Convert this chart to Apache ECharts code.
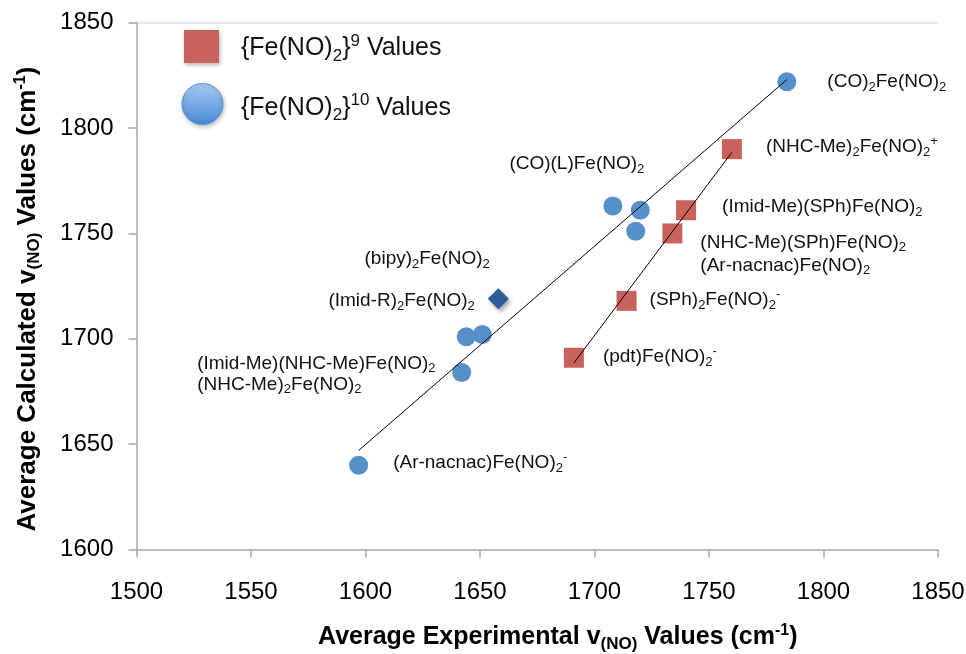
<!DOCTYPE html>
<html><head><meta charset="utf-8">
<script src="https://cdn.jsdelivr.net/npm/echarts@6/dist/echarts.min.js"></script>
<style>html,body{margin:0;padding:0;background:#fff}#c{width:966px;height:654px}</style>
</head><body><div id="c"></div>
<script>
// ---- data ----
const xTicks = [1500, 1550, 1600, 1650, 1700, 1750, 1800, 1850];
const yTicks = [1600, 1650, 1700, 1750, 1800, 1850];

const fe9X = [1760, 1740, 1734, 1714, 1691];
const fe9Y = [1790, 1761, 1750, 1718, 1691];
const fe9Labels = [
  '(NHC-Me){s|2}Fe(NO){s|2}{u|+}',
  '(Imid-Me)(SPh)Fe(NO){s|2}',
  '(NHC-Me)(SPh)Fe(NO){s|2}\n(Ar-nacnac)Fe(NO){s|2}',
  '(SPh){s|2}Fe(NO){s|2}{u|-}',
  '(pdt)Fe(NO){s|2}{u|-}'
];

const fe10X = [1784, 1708, 1720, 1718, 1644, 1651, 1642, 1597];
const fe10Y = [1822, 1763, 1761, 1751, 1701, 1702, 1684, 1640];
const fe10Labels = [
  '(CO){s|2}Fe(NO){s|2}',
  '(CO)(L)Fe(NO){s|2}',
  '', '',
  '(Imid-R){s|2}Fe(NO){s|2}',
  '',
  '(Imid-Me)(NHC-Me)Fe(NO){s|2}\n(NHC-Me){s|2}Fe(NO){s|2}',
  '(Ar-nacnac)Fe(NO){s|2}{u|-}'
];

const bipyX = [1658];
const bipyY = [1719];
const bipyLabels = ['(bipy){s|2}Fe(NO){s|2}'];

const fe10TrendX = [1597, 1784];
const fe10TrendY = [1647, 1823];
const fe9TrendX = [1691, 1760];
const fe9TrendY = [1688.5, 1788.5];

const legendNames = ['Fe9', 'Fe10'];
const legendTexts = ['{Fe(NO){s|2}}{u|9} Values', '{Fe(NO){s|2}}{u|10} Values'];

// ---- layout / style ----
const FONT = "'Liberation Sans', Arial, Helvetica, sans-serif";
const fe9Place = [['right', [24, -2]], ['right', [26, -3]], ['right', [18, 21], 23], ['right', [13, -1]], ['right', [19, -1]]];
const fe10Place = [['right', [31, 0]], ['left', [41, -42]], null, null, ['left', [18, -36]], null, ['leftL', [-255, 2], 21], ['right', [25, -2]]];
const bipyPlace = [['left', [2, -40]]];

const labelRich = {
  s: { fontSize: 13, lineHeight: 13, verticalAlign: 'bottom', fontFamily: FONT, color: '#111' },
  u: { fontSize: 13, lineHeight: 13, verticalAlign: 'top', fontFamily: FONT, color: '#111' }
};

function makeItems(xs, ys, labels, place) {
  return xs.map((x, i) => {
    const item = { value: [x, ys[i]] };
    const p = place[i];
    if (labels[i] && p) {
      const txt = labels[i];
      item.label = {
        show: true,
        position: p[0] === 'leftL' ? 'left' : p[0],
        align: (p[0] === 'right' || p[0] === 'leftL') ? 'left' : 'right',
        verticalAlign: 'middle',
        distance: 0,
        offset: p[1],
        fontSize: 19,
        lineHeight: p[2] || 24,
        fontFamily: FONT,
        color: '#111',
        formatter: () => txt,
        rich: labelRich
      };
    } else {
      item.label = { show: false };
    }
    return item;
  });
}

const nameRich = {
  s: { fontSize: 17, lineHeight: 17, verticalAlign: 'bottom', fontWeight: 'bold', fontFamily: FONT, color: '#000' },
  u: { fontSize: 16, lineHeight: 16, verticalAlign: 'top', fontWeight: 'bold', fontFamily: FONT, color: '#000' }
};
const legRich = {
  s: { fontSize: 17, lineHeight: 17, verticalAlign: 'bottom', fontFamily: FONT, color: '#111' },
  u: { fontSize: 17, lineHeight: 17, verticalAlign: 'top', fontFamily: FONT, color: '#111' },
  sp1: { width: 17 },
  sp2: { width: 13 }
};

const axisGray = '#a6a6a6';
const chart = echarts.init(document.getElementById('c'), null, { renderer: 'canvas' });
chart.setOption({
  animation: false,
  backgroundColor: '#fff',
  grid: { left: 136.5, right: 28, top: 22.7, bottom: 104.5, containLabel: false, outerBoundsMode: 'none' },
  legend: [
    {
      data: [{ name: legendNames[0], icon: 'rect',
        itemStyle: { color: '#c9625a', shadowBlur: 4, shadowOffsetX: 1, shadowOffsetY: 2, shadowColor: 'rgba(0,0,0,0.3)' } }],
      left: 184, top: 28.5, padding: 0, itemWidth: 35, itemHeight: 33, selectedMode: false,
      textStyle: { fontSize: 25, lineHeight: 32, fontFamily: FONT, color: '#111', padding: [4, 0, 0, 0], rich: legRich },
      formatter: () => '{sp1| }' + legendTexts[0]
    },
    {
      data: [{ name: legendNames[1], icon: 'circle',
        itemStyle: { color: { type: 'linear', x: 0, y: 0, x2: 0, y2: 1,
          colorStops: [{ offset: 0, color: '#a9cdf4' }, { offset: 1, color: '#4686d3' }] },
          borderColor: '#5b8fcf', borderWidth: 1,
          shadowBlur: 4, shadowOffsetX: 1, shadowOffsetY: 2, shadowColor: 'rgba(0,0,0,0.25)' } }],
      left: 181.5, top: 83, padding: 0, itemWidth: 41, itemHeight: 41, selectedMode: false,
      textStyle: { fontSize: 25, lineHeight: 32, fontFamily: FONT, color: '#111', padding: [8, 0, 0, 0], rich: legRich },
      formatter: () => '{sp2| }' + legendTexts[1]
    }
  ],
  xAxis: {
    type: 'value',
    min: xTicks[0], max: xTicks[xTicks.length - 1], interval: xTicks[1] - xTicks[0],
    axisLine: { show: true, onZero: false, lineStyle: { color: axisGray, width: 1.5 } },
    axisTick: { show: true, length: 8, lineStyle: { color: axisGray, width: 1.5 } },
    axisLabel: { fontSize: 24, color: '#000', margin: 31, fontFamily: FONT, showMinLabel: true, showMaxLabel: true,
      formatter: v => String(v) },
    splitLine: { show: false },
    name: 'Average Experimental v{s|(NO)} Values (cm{u|-1})',
    nameLocation: 'middle', nameGap: 73,
    nameTextStyle: { fontSize: 25, fontWeight: 'bold', fontFamily: FONT, color: '#000', lineHeight: 30,
      padding: [0, 0, 0, 41], rich: nameRich }
  },
  yAxis: {
    type: 'value',
    min: yTicks[0], max: yTicks[yTicks.length - 1], interval: yTicks[1] - yTicks[0],
    axisLine: { show: true, onZero: false, lineStyle: { color: axisGray, width: 1.5 } },
    axisTick: { show: true, length: 8, lineStyle: { color: axisGray, width: 1.5 } },
    axisLabel: { fontSize: 24, color: '#000', margin: 23, fontFamily: FONT, showMinLabel: true, showMaxLabel: true,
      formatter: v => String(v) },
    splitLine: { show: true, lineStyle: { color: ['rgba(0,0,0,0)', 'rgba(0,0,0,0)', 'rgba(0,0,0,0)', 'rgba(0,0,0,0)', 'rgba(0,0,0,0)', '#dedede'], width: 1.5 } },
    name: 'Average Calculated v{s|(NO)} Values (cm{u|-1})',
    nameLocation: 'middle', nameGap: 94,
    nameTextStyle: { fontSize: 26, fontWeight: 'bold', fontFamily: FONT, color: '#000', lineHeight: 30,
      padding: [0, 26, 0, 0], rich: nameRich }
  },
  series: [
    {
      name: legendNames[0], type: 'scatter', symbol: 'rect', symbolSize: 20, z: 2,
      itemStyle: { color: '#c9625a', opacity: 1 },
      data: makeItems(fe9X, fe9Y, fe9Labels, fe9Place)
    },
    {
      name: legendNames[1], type: 'scatter', symbol: 'circle', symbolSize: 19, z: 2,
      itemStyle: { color: '#5590c9', opacity: 1 },
      data: makeItems(fe10X, fe10Y, fe10Labels, fe10Place)
    },
    {
      name: 'bipy', type: 'scatter', symbol: 'diamond', symbolSize: 21, z: 2,
      itemStyle: { color: '#2c5d98', opacity: 1, shadowBlur: 4, shadowOffsetX: 2, shadowOffsetY: 3, shadowColor: 'rgba(0,0,0,0.35)' },
      data: makeItems(bipyX, bipyY, bipyLabels, bipyPlace)
    },
    {
      name: 'fe10trend', type: 'line', symbol: 'none', z: 3, silent: true,
      lineStyle: { color: '#000', width: 1 },
      data: fe10TrendX.map((x, i) => [x, fe10TrendY[i]])
    },
    {
      name: 'fe9trend', type: 'line', symbol: 'none', z: 3, silent: true,
      lineStyle: { color: '#000', width: 1 },
      data: fe9TrendX.map((x, i) => [x, fe9TrendY[i]])
    }
  ]
});
</script>
</body></html>
